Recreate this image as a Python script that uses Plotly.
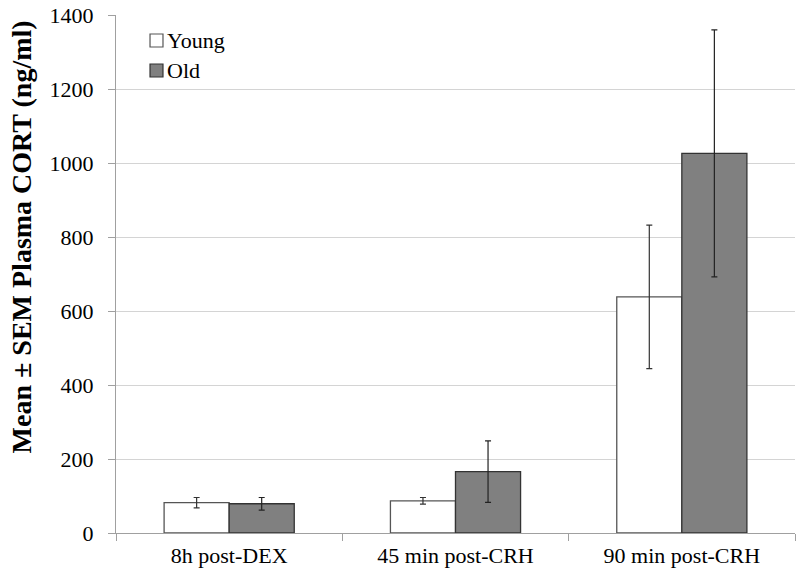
import plotly.graph_objects as go

categories = ["8h post-DEX", "45 min post-CRH", "90 min post-CRH"]
young_mean = [82, 87, 638]
young_sem = [14, 9, 194]
old_mean = [79, 166, 1026]
old_sem = [17, 83, 334]
series_names = ["Young", "Old"]
y_title = "<b>Mean ± SEM Plasma CORT (ng/ml)</b>"

font_family = "Liberation Serif, Times New Roman, serif"
young_fill, young_line = "white", "#555555"
old_fill, old_line = "#808080", "#333333"

fig = go.Figure()
fig.add_trace(go.Bar(
    x=categories, y=young_mean, name=series_names[0],
    marker=dict(color=young_fill, line=dict(color=young_line, width=1.3)),
    error_y=dict(type="data", array=young_sem, color="#333333", thickness=1.2, width=3),
))
fig.add_trace(go.Bar(
    x=categories, y=old_mean, name=series_names[1],
    marker=dict(color=old_fill, line=dict(color=old_line, width=1.3)),
    error_y=dict(type="data", array=old_sem, color="#222222", thickness=1.2, width=3),
))

# manual legend (symbols + text), placed in paper coordinates
legend_rows = [
    (series_names[0], young_fill, young_line, 0.9633, 0.9382, 0.9517),
    (series_names[1], old_fill, old_line, 0.9054, 0.8803, 0.8938),
]
shapes = []
annotations = []
for name, fill, line, y1, y0, ytxt in legend_rows:
    shapes.append(dict(type="rect", xref="paper", yref="paper",
                       x0=0.0501, x1=0.0692, y0=y0, y1=y1,
                       fillcolor=fill, line=dict(color=line, width=1.2)))
    annotations.append(dict(text=name, xref="paper", yref="paper",
                            x=0.0725, y=ytxt, xanchor="left", yanchor="middle",
                            showarrow=False, font=dict(size=22, family=font_family, color="black")))

annotations.append(dict(text=y_title, xref="paper", yref="paper",
                        x=-0.1385, y=0.5724, xanchor="center", yanchor="middle",
                        textangle=-90, showarrow=False, borderpad=0,
                        font=dict(size=28, family=font_family, color="black")))

fig.update_layout(
    width=800, height=582,
    margin=dict(l=116, r=5, t=15, b=49, autoexpand=False),
    paper_bgcolor="white", plot_bgcolor="white",
    barmode="group", bargap=0.425, bargroupgap=0,
    font=dict(family=font_family, size=22, color="black"),
    showlegend=False,
    shapes=shapes,
    annotations=annotations,
    xaxis=dict(
        showline=True, linecolor="#a0a0a0", linewidth=1.2,
        ticks="outside", tickson="boundaries", ticklen=7, tickcolor="#a0a0a0",
        tickfont=dict(size=22, family=font_family),
        ticklabelstandoff=2,
        showgrid=False, automargin=False,
    ),
    yaxis=dict(
        range=[0, 1400], dtick=200,
        showline=True, linecolor="#a0a0a0", linewidth=1.2,
        ticks="outside", ticklen=7, tickcolor="#a0a0a0",
        gridcolor="#d4d4d4", gridwidth=1,
        tickfont=dict(size=22, family=font_family),
        ticklabelstandoff=10,
        ticklabeloverflow="allow",
        zeroline=False, automargin=False,
    ),
)

fig.write_html("out.html", config={"displayModeBar": False},
               post_script="document.body.style.margin='0';")
